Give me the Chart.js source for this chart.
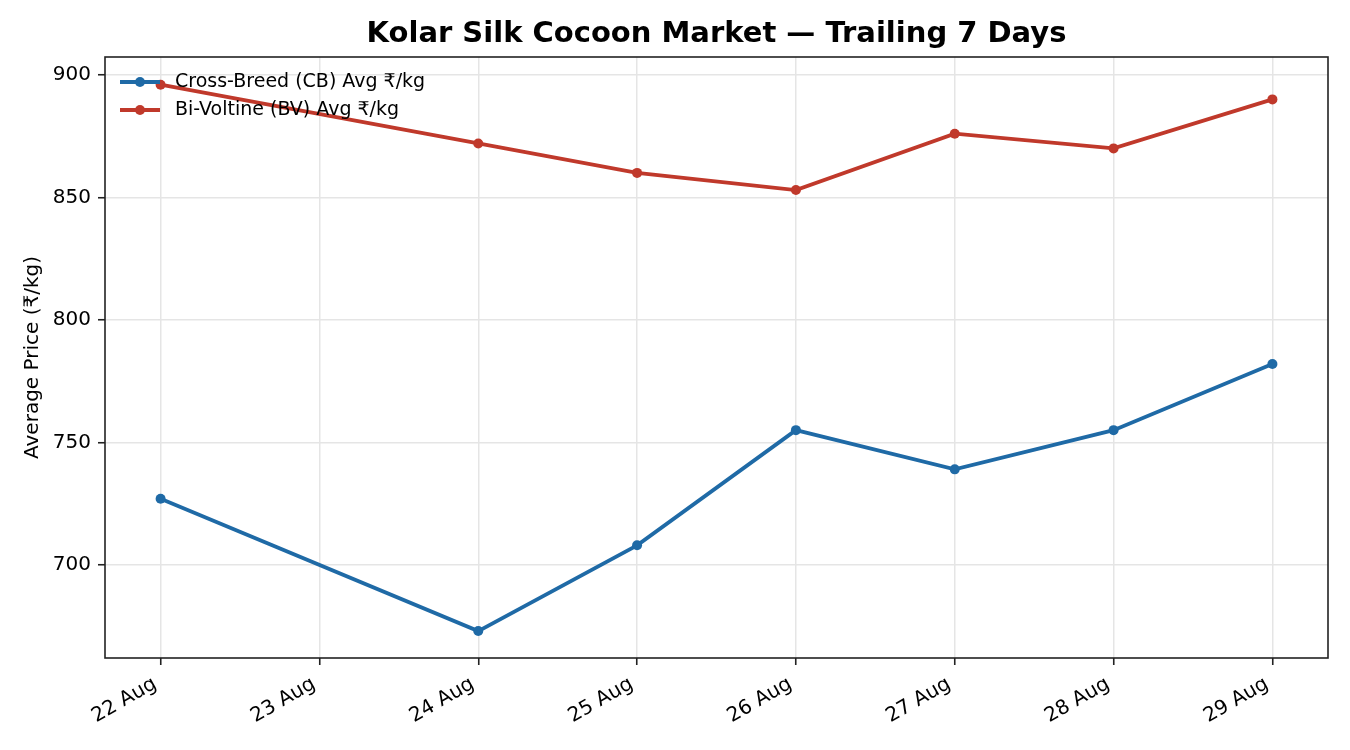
<!DOCTYPE html>
<html>
<head>
<meta charset="utf-8">
<title>Kolar Silk Cocoon Market</title>
<script src="https://cdn.jsdelivr.net/npm/chart.js@4.4.1/dist/chart.umd.min.js"></script>
<style>
  html, body { margin: 0; padding: 0; background: #fff; }
  #wrap { width: 1350px; height: 750px; position: relative; }
</style>
</head>
<body>
<div id="wrap"><canvas id="priceChart"></canvas></div>
<script>
// data (23 Aug has no auction figure)
const days = ['22 Aug', '23 Aug', '24 Aug', '25 Aug', '26 Aug', '27 Aug', '28 Aug', '29 Aug'];
const cbPrices = [727, null, 673, 708, 755, 739, 755, 782];
const bvPrices = [896, null, 872, 860, 853, 876, 870, 890];
const yTicks = [700, 750, 800, 850, 900];

const seriesNames = ['Cross-Breed (CB) Avg ₹/kg', 'Bi-Voltine (BV) Avg ₹/kg'];
const seriesColors = ['#1f6aa6', '#c0392b'];

const FONT = "'DejaVu Sans', sans-serif";

function toPoints(values) {
  return values.map((v, i) => ({ x: i, y: v }));
}

// legend sits inside the plot, top left, no frame
const innerLegend = {
  id: 'innerLegend',
  afterDatasetsDraw(chart) {
    const ctx = chart.ctx;
    const area = chart.chartArea;
    ctx.save();
    chart.data.datasets.forEach((ds, i) => {
      const y = area.top + 25 + i * 28;
      const x0 = area.left + 15;
      ctx.strokeStyle = ds.borderColor;
      ctx.lineWidth = ds.borderWidth;
      ctx.beginPath();
      ctx.moveTo(x0, y);
      ctx.lineTo(x0 + 40, y);
      ctx.stroke();
      ctx.fillStyle = ds.borderColor;
      ctx.beginPath();
      ctx.arc(x0 + 20, y, ds.pointRadius, 0, Math.PI * 2);
      ctx.fill();
      ctx.fillStyle = '#000';
      ctx.font = '19px ' + FONT;
      ctx.textBaseline = 'middle';
      ctx.textAlign = 'left';
      ctx.fillText(ds.label, x0 + 55, y);
    });
    ctx.restore();
  }
};

// four sided axes frame
const frame = {
  id: 'frame',
  afterDraw(chart) {
    const a = chart.chartArea;
    const ctx = chart.ctx;
    ctx.save();
    ctx.strokeStyle = '#222';
    ctx.lineWidth = 1.6;
    ctx.strokeRect(a.left, a.top, a.right - a.left, a.bottom - a.top);
    ctx.restore();
  }
};

new Chart(document.getElementById('priceChart'), {
  type: 'line',
  data: {
    datasets: [
      {
        label: seriesNames[0],
        data: toPoints(cbPrices),
        borderColor: seriesColors[0],
        backgroundColor: seriesColors[0],
        borderWidth: 3.8,
        pointRadius: 5,
        pointBorderWidth: 0,
        pointBackgroundColor: seriesColors[0],
        spanGaps: true,
        tension: 0
      },
      {
        label: seriesNames[1],
        data: toPoints(bvPrices),
        borderColor: seriesColors[1],
        backgroundColor: seriesColors[1],
        borderWidth: 3.8,
        pointRadius: 5,
        pointBorderWidth: 0,
        pointBackgroundColor: seriesColors[1],
        spanGaps: true,
        tension: 0
      }
    ]
  },
  options: {
    responsive: true,
    maintainAspectRatio: false,
    animation: false,
    layout: { padding: { left: 0, right: 22, top: 0, bottom: 0 } },
    plugins: {
      legend: { display: false },
      tooltip: { enabled: false },
      title: {
        display: true,
        fullSize: false,
        text: 'Kolar Silk Cocoon Market — Trailing 7 Days',
        color: '#000',
        font: { family: FONT, size: 29, weight: 'bold', lineHeight: 1.2 },
        padding: { top: 17.5, bottom: 4.7 }
      }
    },
    scales: {
      x: {
        type: 'linear',
        min: -0.35,
        max: 7.35,
        afterBuildTicks(scale) {
          scale.ticks = days.map((d, i) => ({ value: i }));
        },
        afterFit(scale) {
          scale.height = 92;
          scale.paddingLeft = 0;
          scale.paddingRight = 0;
        },
        ticks: {
          color: '#000',
          font: { family: FONT, size: 20 },
          minRotation: 30,
          maxRotation: 30,
          padding: 4,
          autoSkip: false,
          // trailing space pulls the rotated label's end back onto the tick
          callback: (value) => days[value] + ' '
        },
        grid: {
          color: '#e5e5e5',
          lineWidth: 1.5,
          tickColor: '#222',
          tickLength: 7,
          tickWidth: 1.6
        },
        border: { display: false }
      },
      y: {
        type: 'linear',
        min: 662,
        max: 907.3,
        afterBuildTicks(scale) {
          scale.ticks = yTicks.map(v => ({ value: v }));
        },
        afterFit(scale) {
          scale.width = 105;
          scale.paddingTop = 0;
          scale.paddingBottom = 0;
        },
        ticks: {
          color: '#000',
          font: { family: FONT, size: 20 },
          padding: 7
        },
        grid: {
          color: '#e5e5e5',
          lineWidth: 1.5,
          tickColor: '#222',
          tickLength: 7,
          tickWidth: 1.6
        },
        border: { display: false },
        title: {
          display: true,
          text: 'Average Price (₹/kg)',
          color: '#000',
          font: { family: FONT, size: 20 },
          padding: { top: 21, bottom: 0 }
        }
      }
    }
  },
  plugins: [innerLegend, frame]
});
</script>
</body>
</html>
